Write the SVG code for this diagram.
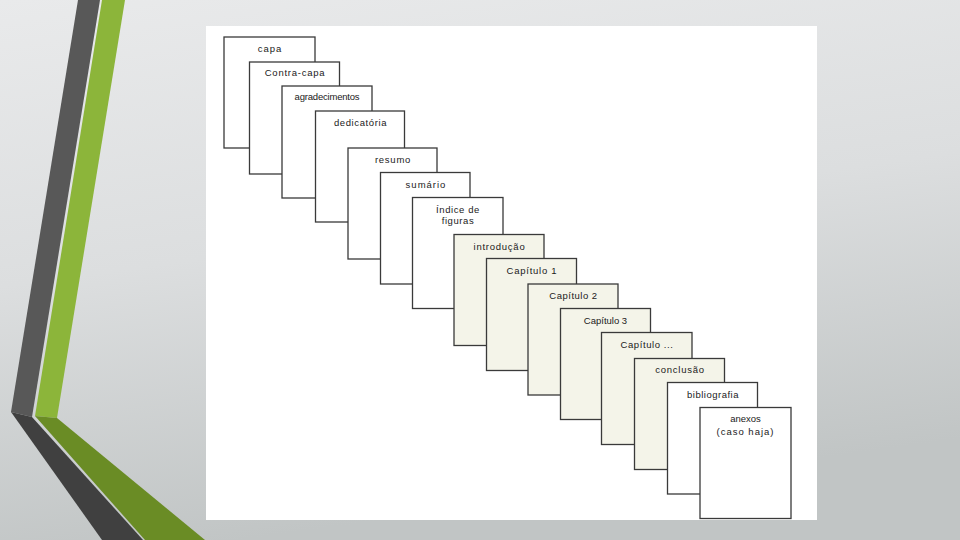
<svg xmlns="http://www.w3.org/2000/svg" width="960" height="540" viewBox="0 0 960 540">
<defs>
<linearGradient id="bg" x1="0" y1="0" x2="0.25" y2="1">
<stop offset="0" stop-color="#e9eaeb"/>
<stop offset="0.5" stop-color="#dcdedf"/>
<stop offset="1" stop-color="#c1c5c5"/>
</linearGradient>
<style>
.card{stroke:#3a3a3a;stroke-width:1.3}
.w{fill:#ffffff}
.b{fill:#f4f4e9}
.t{font-family:"Liberation Sans",Arial,sans-serif;font-size:9.5px;fill:#1a1a1a;text-anchor:middle;letter-spacing:0.75px}
</style>
</defs>
<rect x="0" y="0" width="960" height="540" fill="url(#bg)"/>
<g id="decoration">
<polygon points="78,0 100,0 32,417 11,412" fill="#585858"/>
<polygon points="11,412 32,417 143,540 102,540" fill="#404040"/>
<polygon points="102,0 125,0 57,418 35,416" fill="#8cb53a"/>
<polygon points="35,416 57,418 205,540 145,540" fill="#6a8c25"/>
</g>
<rect id="panel" x="206" y="26" width="611" height="494" fill="#ffffff"/>
<g id="connectors"></g>
<g id="capa"><rect class="card w" x="224" y="37" width="91" height="111"/><text class="t" x="270" y="52" style="letter-spacing:1px">capa</text></g>
<g id="contra-capa"><rect class="card w" x="249.5" y="62" width="90" height="112"/><text class="t" x="295" y="76">Contra-capa</text></g>
<g id="agradecimentos"><rect class="card w" x="282" y="86" width="90" height="112"/><text class="t" x="327" y="100" style="letter-spacing:-0.2px">agradecimentos</text></g>
<g id="dedicatoria"><rect class="card w" x="315.5" y="111" width="89" height="111"/><text class="t" x="360.5" y="126" style="letter-spacing:0.6px">dedicatória</text></g>
<g id="resumo"><rect class="card w" x="348" y="148" width="89" height="111"/><text class="t" x="393" y="163">resumo</text></g>
<g id="sumario"><rect class="card w" x="380.5" y="172.5" width="89.5" height="111.5"/><text class="t" x="426" y="187.5" style="letter-spacing:1px">sumário</text></g>
<g id="indice"><rect class="card w" x="412.5" y="197.5" width="90.5" height="111"/><text class="t" x="458" y="212.5" style="letter-spacing:0.6px">Índice de</text><text class="t" x="458" y="224" style="letter-spacing:0.6px">figuras</text></g>
<g id="introducao"><rect class="card b" x="454" y="234.5" width="90" height="111"/><text class="t" x="499.5" y="249.5">introdução</text></g>
<g id="capitulo1"><rect class="card b" x="486.5" y="258.5" width="90" height="112"/><text class="t" x="532" y="274">Capítulo 1</text></g>
<g id="capitulo2"><rect class="card b" x="528" y="284" width="90" height="111"/><text class="t" x="573.5" y="299" style="letter-spacing:0.5px">Capítulo 2</text></g>
<g id="capitulo3"><rect class="card b" x="560.5" y="308.5" width="90" height="111"/><text class="t" x="605.5" y="323.5" style="letter-spacing:0">Capítulo 3</text></g>
<g id="capitulo-n"><rect class="card b" x="601.5" y="332.5" width="90.5" height="112"/><text class="t" x="647" y="347.5" style="letter-spacing:0.6px">Capítulo ...</text></g>
<g id="conclusao"><rect class="card b" x="634.5" y="358.5" width="90" height="111"/><text class="t" x="680" y="373">conclusão</text></g>
<g id="bibliografia"><rect class="card w" x="667.5" y="382.5" width="90" height="111.5"/><text class="t" x="713" y="397.5" style="letter-spacing:0.5px">bibliografia</text></g>
<g id="anexos"><rect class="card w" x="700" y="407.5" width="91" height="111"/><text class="t" x="745.5" y="422" style="letter-spacing:0">anexos</text><text class="t" x="745.5" y="434.5" style="letter-spacing:1px">(caso haja)</text></g>
</svg>
